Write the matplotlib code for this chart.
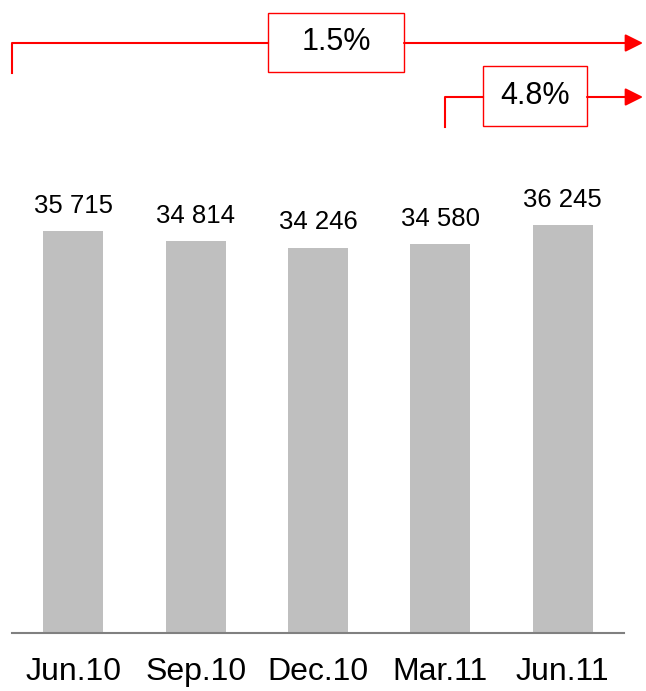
import matplotlib
matplotlib.use("Agg")
from matplotlib import pyplot as plt
from matplotlib.lines import Line2D
from matplotlib.patches import Rectangle

plt.rcParams['font.family'] = ['Liberation Sans', 'DejaVu Sans']

quarters = ['Jun.10', 'Sep.10', 'Dec.10', 'Mar.11', 'Jun.11']
values = [35715, 34814, 34246, 34580, 36245]

W, H = 646, 691
fig = plt.figure(figsize=(W / 100, H / 100), dpi=100)

# axes: x from 12px to 624px, baseline at 633px, top at figure top
ax = fig.add_axes([12 / W, (H - 633) / H, 612 / W, 633 / H])
x = range(len(values))
ax.bar(x, values, width=0.49, color='#bfbfbf')
ax.set_xlim(-0.5, 4.5)
ax.set_ylim(0, 633 / 0.011256)

for xi, v in zip(x, values):
    lbl = f"{v:,}".replace(',', ' ')
    ax.annotate(lbl, (xi, v), xytext=(0, 13), textcoords='offset points',
                ha='center', va='baseline', fontsize=18.5)

for s in ['top', 'right', 'left']:
    ax.spines[s].set_visible(False)
ax.spines['bottom'].set_color('#808080')
ax.spines['bottom'].set_linewidth(1.5)
ax.set_yticks([])
ax.set_xticks(list(x))
ax.set_xticklabels(quarters, fontsize=23)
ax.tick_params(axis='x', length=0, pad=17)


def px(xp, yp):
    return xp / W, 1 - yp / H


def growth_bracket(x0, y, bx0, bx1, by0, by1, text):
    # left tick + line to box
    fig.add_artist(Line2D(*zip(px(x0, y + 30), px(x0, y), px(bx0, y)),
                          color='red', lw=1.5))
    fig.add_artist(Rectangle(px(bx0, by1), (bx1 - bx0) / W, (by1 - by0) / H,
                             transform=fig.transFigure, fill=False,
                             edgecolor='red', lw=1))
    fig.text(*px((bx0 + bx1) / 2, (by0 + by1) / 2), text, ha='center',
             va='center', fontsize=22)
    ax.annotate('', xy=px(643, y), xytext=px(bx1, y),
                xycoords='figure fraction', textcoords='figure fraction',
                arrowprops=dict(arrowstyle='-|>,head_length=1.0,head_width=0.5',
                                color='red', lw=1.5, mutation_scale=10.8,
                                shrinkA=0, shrinkB=0))


g1 = (values[4] / values[0] - 1) * 100
g2 = (values[4] / values[3] - 1) * 100
growth_bracket(12, 43, 268, 404, 13, 72, f"{g1:.1f}%")
growth_bracket(445, 97, 483, 587, 66, 126, f"{g2:.1f}%")

fig.savefig('out.png', dpi=100)
